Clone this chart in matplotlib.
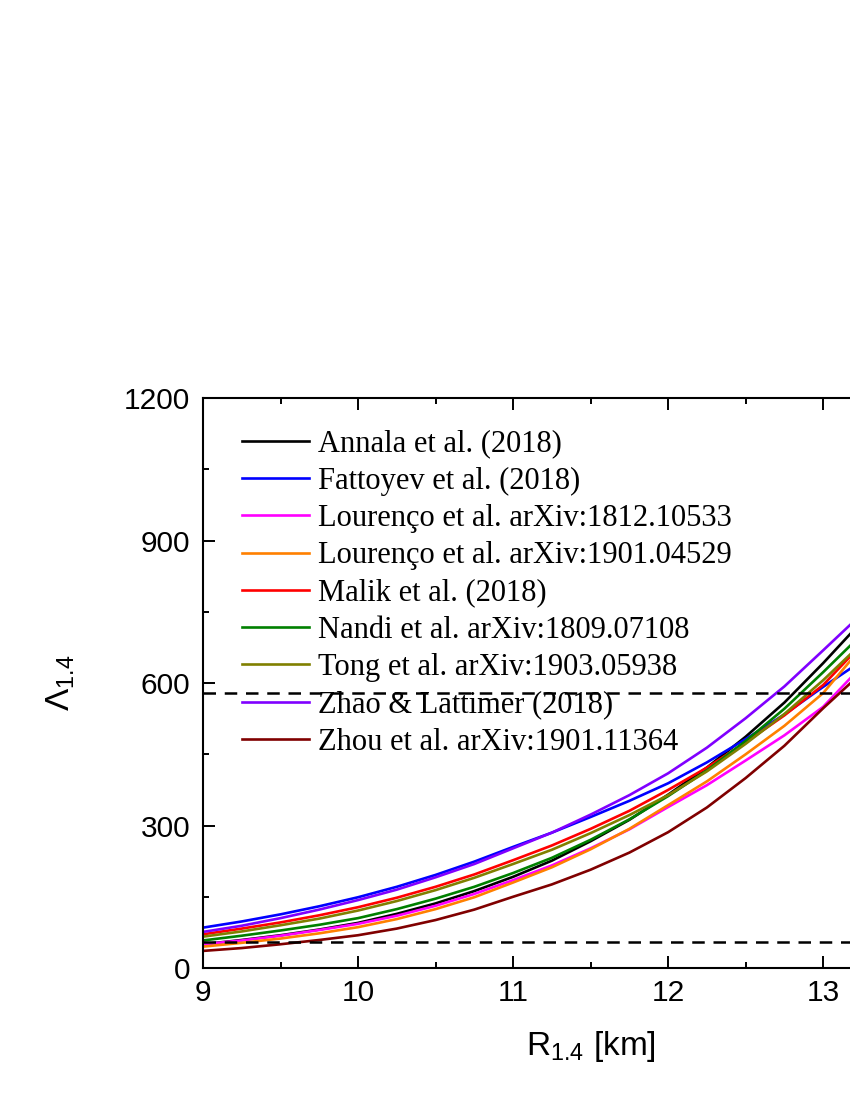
import matplotlib
matplotlib.use('Agg')
import matplotlib.pyplot as plt
from matplotlib.ticker import MultipleLocator, FixedLocator

plt.rcParams['font.family'] = ['Liberation Sans', 'DejaVu Sans']
plt.rcParams['mathtext.fontset'] = 'custom'
plt.rcParams['mathtext.rm'] = 'Liberation Sans'
plt.rcParams['mathtext.it'] = 'Liberation Sans:italic'
plt.rcParams['mathtext.default'] = 'regular'

# radius grid (km)
r = [9.0, 9.25, 9.5, 9.75, 10.0, 10.25, 10.5, 10.75, 11.0, 11.25, 11.5,
     11.75, 12.0, 12.25, 12.5, 12.75, 13.0, 13.25]

# tidal deformability per model
annala = [50, 59, 69, 81, 95, 114, 136, 162, 192, 226, 267, 312, 365, 422, 487, 559, 642, 730]
fattoyev = [85, 98, 113, 130, 149, 171, 196, 224, 255, 285, 318, 352, 389, 433, 482, 534, 592, 647]
lourenco1 = [50, 58, 68, 80, 93, 110, 131, 156, 185, 216, 252, 292, 339, 385, 437, 490, 550, 636]
lourenco2 = [45, 53, 62, 73, 86, 103, 124, 149, 180, 212, 250, 293, 343, 393, 450, 510, 579, 676]
malik = [71, 83, 96, 111, 128, 148, 171, 197, 227, 258, 293, 331, 375, 422, 475, 532, 596, 682]
nandi = [58, 68, 79, 91, 105, 124, 146, 171, 200, 232, 270, 313, 362, 416, 478, 546, 623, 703]
tong = [66, 77, 90, 104, 121, 141, 164, 190, 219, 249, 284, 322, 364, 414, 472, 535, 606, 684]
zhao = [76, 89, 105, 123, 143, 165, 191, 219, 252, 285, 323, 364, 410, 464, 526, 593, 669, 746]
zhou = [36, 42, 50, 59, 69, 83, 101, 123, 150, 176, 207, 243, 286, 338, 400, 468, 547, 622]

labels = ['Annala et al. (2018)', 'Fattoyev et al. (2018)',
          'Lourenço et al. arXiv:1812.10533', 'Lourenço et al. arXiv:1901.04529',
          'Malik et al. (2018)', 'Nandi et al. arXiv:1809.07108',
          'Tong et al. arXiv:1903.05938', 'Zhao & Lattimer (2018)',
          'Zhou et al. arXiv:1901.11364']
series = [annala, fattoyev, lourenco1, lourenco2, malik, nandi, tong, zhao, zhou]
colors = ['#000000', '#0000FF', '#FF00FF', '#FF8000', '#FF0000',
          '#008000', '#808000', '#8000FF', '#800000']

# GW170817 bounds
lam_upper = 580
lam_lower = 55

fig = plt.figure(figsize=(8.5, 11), dpi=100)
ax = fig.add_axes([0.2388, 0.12, 0.912, 0.518])

for y, c, lab in zip(series, colors, labels):
    ax.plot(r, y, color=c, lw=1.9, label=lab)

ax.axhline(lam_upper, color='k', lw=1.8, ls=(0, (5, 3.5)))
ax.axhline(lam_lower, color='k', lw=1.8, ls=(0, (5, 3.5)))

ax.set_xlim(9, 14)
ax.set_ylim(0, 1200)
ax.xaxis.set_major_locator(FixedLocator([9, 10, 11, 12, 13]))
ax.xaxis.set_minor_locator(MultipleLocator(0.5))
ax.yaxis.set_major_locator(MultipleLocator(300))
ax.yaxis.set_minor_locator(MultipleLocator(150))
ax.tick_params(which='both', direction='in', top=True, right=True, width=1.4)
ax.tick_params(which='major', length=8.5, labelsize=21.5)
ax.tick_params(which='minor', length=4.5)
ax.tick_params(axis='y', pad=9)
ax.tick_params(axis='x', pad=8)
for s in ax.spines.values():
    s.set_linewidth(1.5)

ax.set_xlabel(r'$R_{1.4}$ [km]', fontsize=24, labelpad=16)
ax.set_ylabel(r'$\Lambda_{1.4}$', fontsize=24, labelpad=34)

ax.legend(loc='upper left', bbox_to_anchor=(0.05, 0.945), frameon=False,
          prop={'family': 'Liberation Serif', 'size': 22},
          handlelength=2.2, handletextpad=0.28, labelspacing=0.27,
          borderpad=0, borderaxespad=0)

fig.savefig('out.png', dpi=100)
